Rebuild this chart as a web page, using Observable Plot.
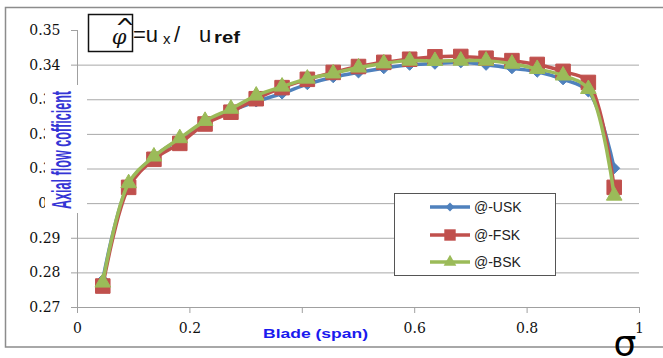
<!DOCTYPE html>
<html><head><meta charset="utf-8">
<script src="https://cdn.jsdelivr.net/npm/d3@7"></script>
<script src="https://cdn.jsdelivr.net/npm/@observablehq/plot@0.6"></script>
<style>body{margin:0;background:#fff} #chart{width:663px;height:358px;overflow:hidden}</style>
</head><body><div id="chart"></div>
<script>
// Blade span positions
const span = [0.045,0.091,0.136,0.182,0.227,0.273,0.318,0.364,0.409,0.455,0.5,0.545,0.591,0.636,0.682,0.727,0.773,0.818,0.864,0.909,0.955];
// Axial flow coefficient per series
const usk = [0.2780,0.3056,0.3135,0.3187,0.3235,0.3268,0.3295,0.3318,0.3345,0.3365,0.3379,0.3391,0.3401,0.3404,0.3408,0.3401,0.3391,0.3381,0.3359,0.3324,0.3102];
const fsk = [0.2762,0.3047,0.3128,0.3174,0.3230,0.3264,0.3303,0.3335,0.3359,0.3379,0.3396,0.3408,0.3417,0.3424,0.3425,0.3420,0.3413,0.3402,0.3382,0.3350,0.3047];
const bsk = [0.2772,0.3059,0.3136,0.3189,0.3239,0.3274,0.3312,0.3338,0.3361,0.3376,0.3393,0.3405,0.3413,0.3412,0.3413,0.3413,0.3404,0.3389,0.3370,0.3331,0.3023];
const seriesNames = ["@-USK","@-FSK","@-BSK"];
const seriesColors = ["#4F81BD","#C0504D","#9BBB59"];
const yTicks = [0.27,0.28,0.29,0.30,0.31,0.32,0.33,0.34,0.35];
const yTickLabels = ["0.27","0.28","0.29","0.3","0.31","0.32","0.33","0.34","0.35"];
const yGrid = [0.28,0.29,0.30,0.31,0.32,0.33,0.34];
const xTicks = [0,0.2,0.4,0.6,0.8,1];
const xTickLabels = ["0","0.2","0.4","0.6","0.8","1"];
const yTitle = "Axial flow cofficient";
const xTitle = "Blade (span)";

const seriesVals = [usk, fsk, bsk];
const symbols = ["diamond2","square","triangle"];
const radii = [5, 8.2, 5.8];

const seriesMarks = [];
seriesVals.forEach((vals, k) => {
  const data = span.map((x, i) => ({x, y: vals[i]}));
  seriesMarks.push(Plot.line(data, {x:"x", y:"y", stroke: seriesColors[k], strokeWidth: 3.5, curve: "catmull-rom"}));
  seriesMarks.push(Plot.dot(data, {x:"x", y:"y", symbol: symbols[k], r: radii[k], fill: seriesColors[k], stroke: seriesColors[k], strokeWidth: 1}));
});

const chart = Plot.plot({
  width: 663, height: 358,
  marginLeft: 77, marginRight: 24, marginTop: 30, marginBottom: 51,
  x: {domain: [0, 1]},
  y: {domain: [0.27, 0.35]},
  style: {fontFamily: "DejaVu Serif", fontSize: "14px", background: "white", color: "#111"},
  marks: [
    Plot.gridY(yGrid, {stroke: "#a8a8a8", strokeOpacity: 1, strokeWidth: 1}),
    Plot.ruleX([0], {stroke: "#a0a0a0", strokeWidth: 1}),
    Plot.ruleY([0.27], {stroke: "#a0a0a0", strokeWidth: 1}),
    Plot.axisY(yTicks, {tickFormat: d => yTickLabels[yTicks.indexOf(d)], tickSize: 6, tickPadding: 11, stroke: "#a0a0a0", fill: "#111", label: null}),
    Plot.axisX(xTicks, {tickFormat: d => xTickLabels[xTicks.indexOf(d)], tickSize: 6, tickPadding: 10, stroke: "#a0a0a0", fill: "#111", label: null}),
    ...seriesMarks
  ]
});
document.getElementById("chart").appendChild(chart);

const svg = d3.select(chart);
// outer border
svg.append("path").attr("d", "M663,7.5H5.5V347H663").attr("fill", "none").attr("stroke", "#8c8c8c").attr("stroke-width", 1.5);

// y-axis title with its white box
svg.append("rect").attr("x", 45).attr("y", 85).attr("width", 42).attr("height", 128).attr("fill", "white");
svg.append("text").attr("transform", "translate(71,150) rotate(-90)")
  .attr("text-anchor", "middle").attr("font-family", "Liberation Sans Narrow, Liberation Sans")
  .attr("font-weight", "bold").attr("font-size", 27).attr("fill", "#3535d5")
  .attr("textLength", 118).attr("lengthAdjust", "spacingAndGlyphs").text(yTitle);

// x-axis title with its white box
svg.append("rect").attr("x", 258).attr("y", 322).attr("width", 120).attr("height", 23).attr("fill", "white");
svg.append("text").attr("x", 263).attr("y", 338).attr("text-anchor", "start").attr("font-family", "Liberation Sans")
  .attr("font-weight", "bold").attr("font-size", 13).attr("fill", "#1a1aee")
  .attr("textLength", 105).attr("lengthAdjust", "spacingAndGlyphs").text(xTitle);

// sigma
svg.append("text").attr("x", 625).attr("y", 356).attr("text-anchor", "middle")
  .attr("font-family", "DejaVu Sans").attr("font-size", 36).attr("fill", "#000").text("σ");

// formula box
svg.append("rect").attr("x", 88.5).attr("y", 14.5).attr("width", 44).attr("height", 37)
  .attr("fill", "none").attr("stroke", "#111").attr("stroke-width", 1.5);
svg.append("text").attr("x", 119).attr("y", 44).attr("text-anchor", "middle")
  .attr("font-family", "DejaVu Serif").attr("font-style", "italic").attr("font-size", 21).attr("fill", "#111").text("φ");
svg.append("text").attr("x", 125).attr("y", 36).attr("text-anchor", "middle")
  .attr("font-family", "DejaVu Sans").attr("font-size", 24).attr("fill", "#111").text("^");
const ft = svg.append("text").attr("y", 42).attr("text-anchor", "start").attr("font-family", "Liberation Sans").attr("fill", "#111");
ft.append("tspan").attr("x", 133).attr("font-size", 22).text("=u");
ft.append("tspan").attr("x", 163).attr("font-size", 15).attr("dy", 2).text("x");
ft.append("tspan").attr("x", 174).attr("font-size", 22).attr("dy", -2).text("/");
ft.append("tspan").attr("x", 199).attr("font-size", 22).text("u");
ft.append("tspan").attr("x", 214).attr("font-size", 17).attr("font-weight", "bold").attr("dy", 1)
  .attr("textLength", 26).attr("lengthAdjust", "spacingAndGlyphs").text("ref");

// legend
const lg = svg.append("g");
lg.append("rect").attr("x", 394.5).attr("y", 193.5).attr("width", 161).attr("height", 82)
  .attr("fill", "white").attr("stroke", "#555").attr("stroke-width", 1);
const legY = [207, 235, 262];
const legSyms = [d3.symbolDiamond2, d3.symbolSquare, d3.symbolTriangle];
const legSizes = [50, 130, 70];
seriesNames.forEach((name, k) => {
  lg.append("line").attr("x1", 430).attr("x2", 470).attr("y1", legY[k]).attr("y2", legY[k])
    .attr("stroke", seriesColors[k]).attr("stroke-width", 3.5);
  lg.append("path").attr("transform", `translate(450,${legY[k]})`)
    .attr("d", d3.symbol(legSyms[k], legSizes[k])()).attr("fill", seriesColors[k]);
  lg.append("text").attr("x", 474).attr("y", legY[k] + 5).attr("text-anchor", "start").attr("font-family", "Liberation Sans")
    .attr("font-size", 14).attr("fill", "#222").text(name);
});
</script>
</body></html>
